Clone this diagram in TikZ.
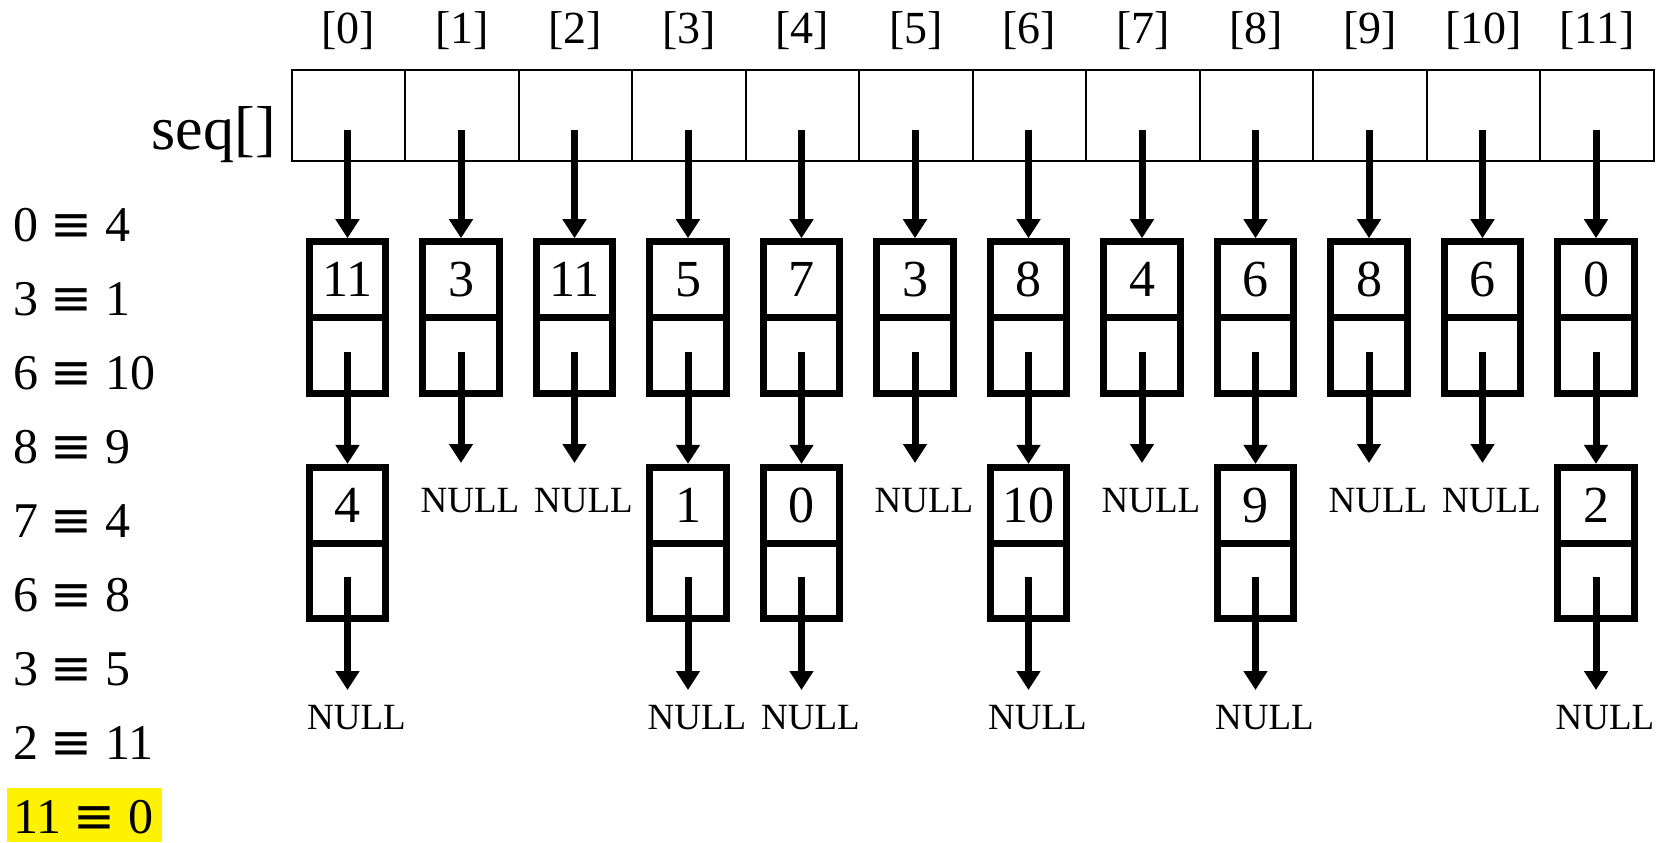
\documentclass[tikz,border=0pt]{standalone}
\usepackage{fontspec}
\setmainfont{Liberation Serif}
\newfontfamily\symfont{DejaVu Sans}
\usetikzlibrary{arrows.meta}
\newcommand{\eqv}{{\symfont\char"2261}}
\tikzset{
  cell/.style={draw, line width=2pt, minimum width=113.5pt, minimum height=91pt, inner sep=0pt},
  idx/.style={inner sep=0pt, font=\fontsize{46}{50}\selectfont},
  seqlab/.style={inner sep=0pt, anchor=east, font=\fontsize{62}{66}\selectfont},
  val/.style={draw, line width=7pt, minimum width=76.3pt, minimum height=75.6pt, inner sep=0pt, font=\fontsize{52}{56}\selectfont},
  nxt/.style={draw, line width=7pt, minimum width=76.3pt, minimum height=75.6pt, inner sep=0pt},
  nul/.style={inner sep=0pt, font=\fontsize{37}{40}\selectfont},
  eqlab/.style={inner sep=0pt, anchor=west, font=\fontsize{50}{54}\selectfont},
  ptr/.style={line width=7pt, -{Triangle[length=19pt,width=23pt]}},
}
\begin{document}
\begin{tikzpicture}[x=1pt,y=-1pt]
\useasboundingbox (0,0) rectangle (1663,843);
% array, index labels, first nodes
\foreach \i/\a in {0/11,1/3,2/11,3/5,4/7,5/3,6/8,7/4,8/6,9/8,10/6,11/0}{
  \pgfmathsetmacro\xc{348.45+113.5*\i}
  \pgfmathsetmacro\xa{347.5+113.5*\i}
  \node[cell] (c\i) at (\xc,115.5) {};
  \node[idx] (ix\i) at (\xc,31) {[\i]};
  \node[val] (t\i) at (\xa,279.5) {\a};
  \node[nxt] (b\i) at (\xa,355.2) {};
  \coordinate (s\i) at (\xa,130);
  \coordinate (q\i) at (\xa,351.7);
  \draw[ptr] (s\i) -- (t\i);
}
\node[seqlab] (seq) at (276,134.5) {seq[]};
% second nodes
\foreach \i/\a in {0/4,3/1,4/0,6/10,8/9,11/2}{
  \pgfmathsetmacro\xa{347.5+113.5*\i}
  \node[val] (u\i) at (\xa,505.2) {\a};
  \node[nxt] (v\i) at (\xa,581) {};
  \coordinate (r\i) at (\xa,577.3);
  \coordinate (e\i) at (\xa,690);
  \node[nul] (nb\i) at (\xa+9,718) {NULL};
  \draw[ptr] (q\i) -- (u\i);
  \draw[ptr] (r\i) -- (e\i);
}
% first-row NULLs
\foreach \i in {1,2,5,7,9,10}{
  \pgfmathsetmacro\xa{347.5+113.5*\i}
  \coordinate (f\i) at (\xa,463);
  \node[nul] (na\i) at (\xa+9,500.5) {NULL};
  \draw[ptr] (q\i) -- (f\i);
}
% equations
\fill[yellow] (7,788) rectangle (162,842);
\foreach \k/\l/\r in {0/0/4,1/3/1,2/6/10,3/8/9,4/7/4,5/6/8,6/3/5,7/2/11,8/11/0}{
  \node[eqlab] (eq\k) at (13,225+74*\k) {\l\ \eqv\ \r};
}
\end{tikzpicture}
\end{document}
